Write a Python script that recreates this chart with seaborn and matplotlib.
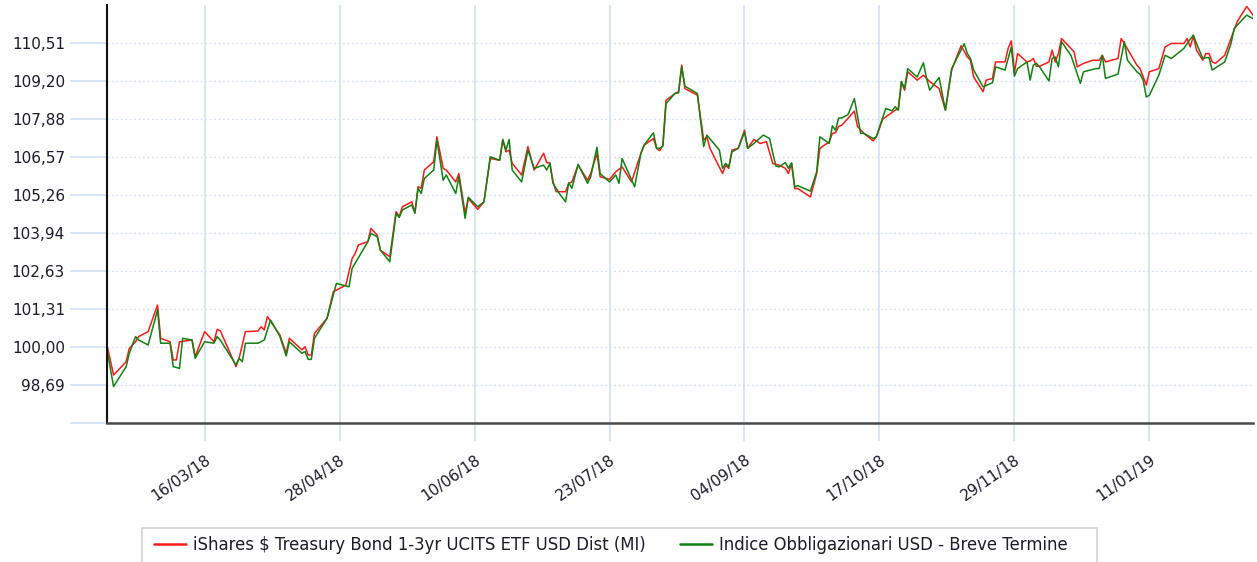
import pandas as pd
import seaborn as sns
import matplotlib.pyplot as plt
import matplotlib.dates as mdates
from matplotlib.patches import Rectangle
from matplotlib.lines import Line2D

series_names = ["iShares $ Treasury Bond 1-3yr UCITS ETF USD Dist (MI)",
                "Indice Obbligazionari USD - Breve Termine"]
series_colors = ["#ff1a1a", "#128012"]

red_dates = [
    "2018-02-13", "2018-02-15", "2018-02-19", "2018-02-20", "2018-02-22", "2018-02-23", "2018-02-26",
    "2018-03-01", "2018-03-02", "2018-03-05", "2018-03-06", "2018-03-07", "2018-03-08", "2018-03-12",
    "2018-03-13", "2018-03-16", "2018-03-19", "2018-03-20", "2018-03-21", "2018-03-26", "2018-03-27",
    "2018-03-29", "2018-04-02", "2018-04-03", "2018-04-04", "2018-04-05", "2018-04-09", "2018-04-11",
    "2018-04-12", "2018-04-16", "2018-04-17", "2018-04-18", "2018-04-19", "2018-04-20", "2018-04-24",
    "2018-04-26", "2018-04-30", "2018-05-02", "2018-05-03", "2018-05-04", "2018-05-07", "2018-05-08",
    "2018-05-10", "2018-05-11", "2018-05-14", "2018-05-16", "2018-05-17", "2018-05-18", "2018-05-21",
    "2018-05-22", "2018-05-23", "2018-05-24", "2018-05-25", "2018-05-28", "2018-05-29", "2018-05-31",
    "2018-06-01", "2018-06-04", "2018-06-05", "2018-06-07", "2018-06-08", "2018-06-11", "2018-06-13",
    "2018-06-15", "2018-06-18", "2018-06-19", "2018-06-20", "2018-06-21", "2018-06-22", "2018-06-25",
    "2018-06-27", "2018-06-29", "2018-07-02", "2018-07-03", "2018-07-04", "2018-07-05", "2018-07-06",
    "2018-07-09", "2018-07-10", "2018-07-11", "2018-07-13", "2018-07-16", "2018-07-17", "2018-07-19",
    "2018-07-20", "2018-07-23", "2018-07-25", "2018-07-27", "2018-07-30", "2018-08-02", "2018-08-03",
    "2018-08-06", "2018-08-07", "2018-08-08", "2018-08-09", "2018-08-10", "2018-08-13", "2018-08-14",
    "2018-08-15", "2018-08-16", "2018-08-20", "2018-08-22", "2018-08-23", "2018-08-24", "2018-08-28",
    "2018-08-29", "2018-08-30", "2018-08-31", "2018-09-02", "2018-09-04", "2018-09-05", "2018-09-07",
    "2018-09-09", "2018-09-11", "2018-09-13", "2018-09-15", "2018-09-17", "2018-09-18", "2018-09-19",
    "2018-09-20", "2018-09-21", "2018-09-25", "2018-09-27", "2018-09-28", "2018-10-01", "2018-10-02",
    "2018-10-03", "2018-10-04", "2018-10-05", "2018-10-07", "2018-10-09", "2018-10-10", "2018-10-12",
    "2018-10-15", "2018-10-16", "2018-10-18", "2018-10-19", "2018-10-22", "2018-10-23", "2018-10-24",
    "2018-10-25", "2018-10-26", "2018-10-29", "2018-10-31", "2018-11-01", "2018-11-02", "2018-11-05",
    "2018-11-07", "2018-11-09", "2018-11-12", "2018-11-14", "2018-11-15", "2018-11-16", "2018-11-19",
    "2018-11-20", "2018-11-22", "2018-11-23", "2018-11-26", "2018-11-27", "2018-11-28", "2018-11-29",
    "2018-11-30", "2018-12-03", "2018-12-04", "2018-12-05", "2018-12-06", "2018-12-07", "2018-12-10",
    "2018-12-11", "2018-12-12", "2018-12-13", "2018-12-14", "2018-12-18", "2018-12-19", "2018-12-21",
    "2018-12-24", "2018-12-26", "2018-12-27", "2018-12-28", "2019-01-01", "2019-01-02", "2019-01-03",
    "2019-01-07", "2019-01-08", "2019-01-09", "2019-01-10", "2019-01-11", "2019-01-14", "2019-01-16",
    "2019-01-18", "2019-01-22", "2019-01-23", "2019-01-24", "2019-01-25", "2019-01-26", "2019-01-28",
    "2019-01-29", "2019-01-30", "2019-01-31", "2019-02-01", "2019-02-04", "2019-02-06", "2019-02-08",
    "2019-02-11", "2019-02-13"]
red_vals = [
    100.00, 99.02, 99.48, 99.94, 100.17, 100.35, 100.52,
    101.44, 100.29, 100.17, 99.54, 99.54, 100.17, 100.23,
    99.65, 100.52, 100.17, 100.60, 100.55, 99.31, 99.60,
    100.52, 100.54, 100.69, 100.58, 101.04, 100.40, 99.77,
    100.29, 99.89, 100.00, 99.71, 99.71, 100.46, 100.98,
    101.90, 102.13, 103.05, 103.23, 103.52, 103.63, 104.09,
    103.86, 103.34, 103.11, 104.67, 104.50, 104.84, 105.01,
    104.64, 105.53, 105.48, 106.11, 106.40, 107.26, 106.17,
    106.11, 105.70, 105.99, 104.61, 105.13, 104.75, 105.01,
    106.51, 106.45, 107.15, 106.74, 106.80, 106.34, 105.94,
    106.92, 106.11, 106.69, 106.36, 106.36, 105.70, 105.36,
    105.36, 105.65, 105.70, 106.28, 105.76, 105.99, 106.69,
    105.88, 105.79, 106.05, 106.22, 105.70, 106.69, 106.97,
    107.20, 106.86, 106.78, 106.97, 108.53, 108.76, 108.82,
    109.74, 108.93, 108.70, 107.15, 107.26, 106.86, 105.99,
    106.28, 106.17, 106.80, 106.86, 107.49, 106.86, 107.17,
    107.03, 107.09, 106.34, 106.28, 106.17, 105.99, 106.34,
    105.47, 105.47, 105.18, 105.99, 106.86, 107.09, 107.38,
    107.40, 107.62, 107.66, 107.90, 108.15, 107.62, 107.38,
    107.12, 107.26, 107.86, 107.95, 108.18, 108.24, 109.17,
    108.87, 109.51, 109.22, 109.39, 109.28, 109.17, 108.93,
    108.18, 109.57, 110.41, 110.02, 109.91, 109.33, 108.82,
    109.22, 109.28, 109.85, 109.85, 110.32, 110.58, 109.48,
    110.14, 109.85, 109.88, 109.97, 109.70, 109.70, 109.85,
    110.26, 109.85, 110.14, 110.66, 110.20, 109.68, 109.80,
    109.91, 109.91, 110.08, 109.85, 109.97, 110.66, 110.49,
    109.74, 109.62, 109.33, 109.05, 109.51, 109.62, 110.37,
    110.49, 110.49, 110.66, 110.37, 110.74, 110.26, 109.91,
    110.14, 110.14, 109.85, 109.80, 110.08, 110.66, 111.25,
    111.77, 111.47]

green_dates = [
    "2018-02-13", "2018-02-15", "2018-02-19", "2018-02-20", "2018-02-22", "2018-02-23", "2018-02-26",
    "2018-03-01", "2018-03-02", "2018-03-05", "2018-03-06", "2018-03-08", "2018-03-09", "2018-03-12",
    "2018-03-13", "2018-03-16", "2018-03-19", "2018-03-20", "2018-03-21", "2018-03-26", "2018-03-27",
    "2018-03-28", "2018-03-29", "2018-04-02", "2018-04-04", "2018-04-06", "2018-04-09", "2018-04-11",
    "2018-04-12", "2018-04-16", "2018-04-17", "2018-04-18", "2018-04-19", "2018-04-20", "2018-04-24",
    "2018-04-27", "2018-05-01", "2018-05-02", "2018-05-07", "2018-05-08", "2018-05-10", "2018-05-11",
    "2018-05-14", "2018-05-16", "2018-05-17", "2018-05-18", "2018-05-21", "2018-05-22", "2018-05-23",
    "2018-05-24", "2018-05-25", "2018-05-28", "2018-05-29", "2018-05-31", "2018-06-01", "2018-06-04",
    "2018-06-05", "2018-06-07", "2018-06-08", "2018-06-11", "2018-06-13", "2018-06-15", "2018-06-18",
    "2018-06-19", "2018-06-20", "2018-06-21", "2018-06-22", "2018-06-25", "2018-06-27", "2018-06-29",
    "2018-07-02", "2018-07-03", "2018-07-04", "2018-07-05", "2018-07-07", "2018-07-09", "2018-07-10",
    "2018-07-11", "2018-07-13", "2018-07-16", "2018-07-17", "2018-07-19", "2018-07-20", "2018-07-23",
    "2018-07-25", "2018-07-26", "2018-07-27", "2018-07-31", "2018-08-02", "2018-08-03", "2018-08-06",
    "2018-08-07", "2018-08-08", "2018-08-09", "2018-08-10", "2018-08-13", "2018-08-14", "2018-08-15",
    "2018-08-16", "2018-08-20", "2018-08-22", "2018-08-23", "2018-08-27", "2018-08-28", "2018-08-29",
    "2018-08-30", "2018-08-31", "2018-09-02", "2018-09-04", "2018-09-05", "2018-09-07", "2018-09-10",
    "2018-09-12", "2018-09-13", "2018-09-14", "2018-09-15", "2018-09-17", "2018-09-18", "2018-09-19",
    "2018-09-20", "2018-09-21", "2018-09-25", "2018-09-27", "2018-09-28", "2018-10-01", "2018-10-02",
    "2018-10-03", "2018-10-04", "2018-10-05", "2018-10-07", "2018-10-09", "2018-10-11", "2018-10-12",
    "2018-10-15", "2018-10-16", "2018-10-19", "2018-10-21", "2018-10-22", "2018-10-23", "2018-10-24",
    "2018-10-25", "2018-10-26", "2018-10-29", "2018-10-31", "2018-11-01", "2018-11-02", "2018-11-05",
    "2018-11-07", "2018-11-09", "2018-11-13", "2018-11-14", "2018-11-15", "2018-11-16", "2018-11-19",
    "2018-11-22", "2018-11-23", "2018-11-26", "2018-11-28", "2018-11-29", "2018-11-30", "2018-12-03",
    "2018-12-04", "2018-12-05", "2018-12-06", "2018-12-07", "2018-12-10", "2018-12-11", "2018-12-12",
    "2018-12-13", "2018-12-14", "2018-12-17", "2018-12-20", "2018-12-21", "2018-12-25", "2018-12-26",
    "2018-12-27", "2018-12-28", "2019-01-01", "2019-01-03", "2019-01-04", "2019-01-07", "2019-01-08",
    "2019-01-09", "2019-01-10", "2019-01-11", "2019-01-14", "2019-01-16", "2019-01-18", "2019-01-22",
    "2019-01-23", "2019-01-25", "2019-01-26", "2019-01-28", "2019-01-29", "2019-01-30", "2019-01-31",
    "2019-02-04", "2019-02-06", "2019-02-07", "2019-02-11", "2019-02-13"]
green_vals = [
    99.85, 98.62, 99.31, 99.77, 100.35, 100.23, 100.06,
    101.27, 100.12, 100.12, 99.31, 99.25, 100.29, 100.23,
    99.60, 100.17, 100.12, 100.35, 100.23, 99.37, 99.60,
    99.48, 100.12, 100.12, 100.23, 100.92, 100.35, 99.68,
    100.17, 99.77, 99.83, 99.56, 99.56, 100.29, 100.98,
    102.19, 102.07, 102.71, 103.63, 103.92, 103.80, 103.34,
    102.94, 104.61, 104.47, 104.73, 104.90, 104.61, 105.48,
    105.30, 105.82, 106.11, 107.15, 105.76, 105.94, 105.30,
    105.88, 104.44, 105.17, 104.84, 105.01, 106.57, 106.45,
    107.17, 106.80, 107.17, 106.11, 105.70, 106.80, 106.17,
    106.28, 106.11, 106.34, 105.65, 105.30, 105.01, 105.67,
    105.48, 106.31, 105.65, 105.88, 106.90, 105.99, 105.70,
    105.94, 105.65, 106.51, 105.53, 106.69, 106.97, 107.40,
    106.86, 106.86, 106.94, 108.41, 108.78, 108.78, 109.68,
    109.01, 108.76, 106.92, 107.32, 106.80, 106.17, 106.34,
    106.22, 106.74, 106.86, 107.43, 106.86, 107.03, 107.32,
    107.20, 106.70, 106.25, 106.22, 106.37, 106.17, 106.36,
    105.53, 105.57, 105.38, 106.05, 107.26, 107.03, 107.64,
    107.49, 107.91, 107.91, 108.03, 108.58, 107.38, 107.38,
    107.20, 107.26, 108.24, 108.16, 108.30, 108.18, 109.17,
    108.93, 109.62, 109.33, 109.82, 109.28, 108.88, 109.31,
    108.18, 109.62, 110.48, 110.14, 109.97, 109.57, 108.99,
    109.13, 109.68, 109.57, 110.37, 109.36, 109.62, 109.85,
    109.22, 109.74, 109.80, 109.68, 109.19, 109.97, 110.02,
    109.68, 110.55, 110.08, 109.11, 109.51, 109.62, 109.62,
    110.08, 109.28, 109.43, 110.55, 109.91, 109.51, 109.43,
    109.22, 108.64, 108.70, 109.39, 110.08, 109.97, 110.32,
    110.49, 110.78, 110.49, 109.97, 110.00, 110.00, 109.57,
    109.85, 110.49, 111.01, 111.47, 111.35]

x_ticks = ["2018-03-16", "2018-04-28", "2018-06-10", "2018-07-23",
           "2018-09-04", "2018-10-17", "2018-11-29", "2019-01-11"]
y_ticks = [97.37, 98.69, 100.00, 101.31, 102.63, 103.94, 105.26,
           106.57, 107.88, 109.20, 110.51]

df = pd.concat([
    pd.DataFrame({"date": pd.to_datetime(red_dates), "value": red_vals, "serie": series_names[0]}),
    pd.DataFrame({"date": pd.to_datetime(green_dates), "value": green_vals, "serie": series_names[1]}),
])

sns.set_style("white")
plt.rcParams["font.family"] = ["DejaVu Sans"]

W, H = 1257, 562
fig = plt.figure(figsize=(W / 100, H / 100), dpi=100)
ax = fig.add_axes([107.3 / W, 1 - 422.7 / H, (1253 - 107.3) / W, (422.7 - 5) / H])

sns.lineplot(data=df, x="date", y="value", hue="serie", palette=series_colors,
             linewidth=1.1, estimator=None, legend=False, ax=ax)

ax.set_xlim(pd.Timestamp("2018-02-13"), pd.Timestamp("2019-02-13"))
ax.set_ylim(97.37, 111.82)
ax.set_xlabel("")
ax.set_ylabel("")

grid_blue = "#d6e4f5"
ax.set_xticks(pd.to_datetime(x_ticks))
ax.xaxis.set_major_formatter(mdates.DateFormatter("%d/%m/%y"))
ax.set_yticks(y_ticks)
ax.set_yticklabels([""] + [f"{v:.2f}".replace(".", ",") for v in y_ticks[1:]])

ax.grid(axis="x", color=grid_blue, lw=1.3, ls="-")
ax.grid(axis="y", color="#d3e0f1", lw=1.0, ls=(0, (1.2, 2)))
ax.set_axisbelow(True)

ax.tick_params(axis="y", length=27, width=1.3, color=grid_blue, pad=3.5,
               labelsize=11, labelcolor="#1c1c2a", left=True)
ax.tick_params(axis="x", length=13, width=1.3, color=grid_blue, pad=8.5,
               labelsize=11, labelcolor="#1c1c2a", bottom=True)
for lab in ax.get_xticklabels():
    lab.set_rotation(35)
    lab.set_ha("right")
    lab.set_va("top")
    lab.set_rotation_mode("anchor")

for side in ["top", "right"]:
    ax.spines[side].set_visible(False)
ax.spines["left"].set_color("#111111")
ax.spines["left"].set_linewidth(1.5)
ax.spines["bottom"].set_color("#4a4a4a")
ax.spines["bottom"].set_linewidth(1.8)

# legend box (runs off the bottom of the image as in the original)
fig.patches.append(Rectangle((141.7 / W, -0.01), (1096.7 - 141.7) / W, (562 - 527.5) / H + 0.01,
                             transform=fig.transFigure, fill=False,
                             edgecolor="#d2d2d2", linewidth=1.2))
handles = [Line2D([], [], color=c, lw=1.8) for c in series_colors]
fig.legend(handles, series_names, loc="center left", bbox_to_anchor=(154 / W, 1 - 545 / H),
           ncol=2, frameon=False, fontsize=11.9, handlelength=1.94, handletextpad=0.42,
           columnspacing=2.06, borderpad=0, borderaxespad=0, labelcolor="#1c1c2a")

fig.savefig("out.png", dpi=100)
